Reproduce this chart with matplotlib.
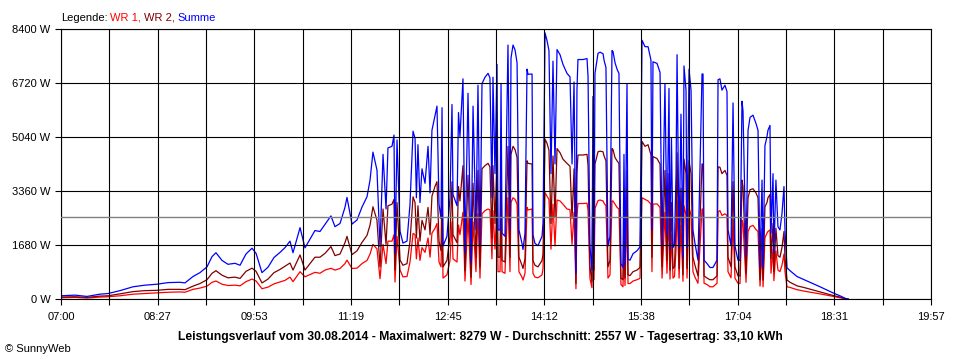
import numpy as np
import matplotlib
matplotlib.use("Agg")
import matplotlib.pyplot as plt
from matplotlib.offsetbox import TextArea, HPacker, AnchoredOffsetbox

plt.rcParams['font.family'] = ['Liberation Sans', 'DejaVu Sans']

# Leistungsverlauf 30.08.2014, Zeit in Minuten ab 07:00
minutes = [
    0.0, 12.5, 23.2, 34.8, 42.0, 52.7, 64.3, 75.0, 85.7, 95.6,
    106.3, 110.7, 117.9, 124.1, 130.4, 134.9, 138.4, 143.8, 149.1, 155.4,
    159.9, 165.2, 170.6, 174.2, 179.5, 184.9, 190.2, 195.6, 200.1, 204.5,
    207.2, 213.5, 217.9, 222.4, 226.8, 231.3, 235.8, 241.1, 244.7, 249.2,
    253.6, 255.4, 259.9, 264.4, 268.8, 273.3, 276.0, 278.6, 282.2, 284.9,
    287.6, 290.3, 292.0, 295.6, 297.4, 298.3, 300.1, 302.8, 305.4, 309.0,
    311.7, 314.4, 316.2, 317.4, 318.8, 320.6, 322.4, 325.1, 327.8, 329.6,
    331.3, 334.0, 335.8, 337.6, 339.4, 340.3, 341.2, 344.7, 347.4, 349.2,
    350.1, 353.7, 355.0, 356.3, 359.0, 360.8, 363.5, 366.2, 368.0, 370.6,
    372.4, 374.2, 376.0, 378.7, 381.4, 383.1, 384.9, 385.8, 387.6, 389.4,
    390.3, 392.1, 393.0, 393.9, 396.5, 399.2, 401.0, 401.9, 403.7, 405.5,
    407.3, 409.0, 411.7, 412.6, 414.4, 416.2, 417.1, 420.7, 421.5, 423.3,
    426.0, 429.6, 430.5, 432.3, 434.0, 435.8, 437.6, 439.4, 441.2, 443.0,
    445.7, 448.3, 451.9, 454.6, 456.4, 458.2, 459.9, 460.8, 461.7, 466.2,
    469.8, 470.7, 472.4, 474.2, 475.1, 476.0, 476.9, 479.6, 481.4, 484.1,
    485.0, 486.7, 488.5, 490.3, 492.1, 493.0, 494.8, 496.6, 498.3, 500.1,
    501.9, 502.8, 503.7, 505.5, 506.4, 508.2, 510.9, 514.4, 517.1, 518.9,
    521.6, 524.3, 526.9, 527.8, 528.7, 532.3, 535.0, 536.8, 539.4, 541.2,
    543.0, 543.9, 545.2, 546.6, 547.9, 549.3, 550.2, 552.0, 553.7, 555.5,
    556.4, 558.2, 559.1, 560.9, 562.7, 564.4, 566.2, 568.9, 572.5, 573.4,
    574.3, 577.0, 579.6, 582.3, 585.9, 586.8, 588.5, 590.3, 593.0, 594.8,
    595.7, 598.4, 600.2, 601.9, 604.6, 606.4, 608.2, 609.1, 611.8, 613.6,
    615.4, 618.0, 620.7, 622.5, 624.3, 626.1, 627.0, 628.7, 630.5, 631.4,
    633.2, 634.1, 635.9, 636.7, 638.5, 640.3, 642.1, 643.9, 645.7, 646.6,
    648.4, 651.1, 657.3, 664.4, 677.9, 689.5, 695.7, 701.1, 702.9,
]

wr1 = [
    40, 50, 30, 60, 70, 100, 150, 170, 190, 210,
    220, 210, 300, 340, 400, 520, 560, 460, 420, 430,
    410, 540, 620, 560, 320, 370, 470, 530, 580, 680,
    540, 850, 690, 760, 830, 800, 900, 955, 900, 950,
    1100, 1210, 950, 960, 1100, 1200, 1400, 1700, 1560, 630,
    1700, 1100, 1800, 1800, 2000, 530, 1950, 900, 690, 700,
    1150, 2040, 2000, 1250, 1900, 1200, 1600, 1450, 1900, 1300,
    2050, 2200, 2350, 1150, 1000, 2350, 650, 750, 1200, 2400,
    1250, 1150, 2300, 2000, 2700, 560, 2550, 450, 2400, 850,
    2650, 650, 2650, 2750, 2800, 2770, 1250, 2750, 1550, 2900,
    850, 850, 2700, 850, 800, 3150, 850, 3000, 3150, 3100,
    2950, 850, 680, 590, 800, 2850, 2770, 2800, 800, 680,
    660, 750, 950, 3309, 3200, 3100, 1550, 2950, 1650, 3080,
    3050, 2950, 2800, 2780, 1700, 2700, 320, 2600, 2970, 2970,
    2980, 2760, 640, 350, 2500, 600, 2820, 3060, 3080, 3050,
    2980, 2900, 650, 750, 3050, 3050, 2950, 2850, 2800, 450,
    380, 1800, 420, 2700, 480, 480, 560, 600, 640, 3150,
    3100, 3050, 2950, 850, 2950, 2960, 2850, 650, 2700, 800,
    2650, 620, 2000, 650, 700, 1550, 3050, 650, 2300, 550,
    2900, 2600, 650, 2850, 2600, 850, 680, 490, 2800, 2800,
    490, 450, 380, 380, 490, 2710, 2750, 2600, 2650, 2600,
    850, 660, 2450, 650, 490, 480, 2450, 2350, 520, 2100,
    2250, 2290, 2160, 2100, 400, 1500, 380, 1900, 2050, 2100,
    2150, 800, 1550, 570, 1500, 900, 850, 1050, 1400, 850,
    380, 360, 290, 240, 160, 80, 40, 4, 0,
]

wr2 = [
    60, 70, 50, 90, 100, 160, 230, 260, 270, 300,
    300, 290, 400, 480, 600, 800, 880, 740, 660, 680,
    640, 860, 960, 860, 500, 620, 820, 920, 1020, 1120,
    900, 1370, 900, 1100, 1300, 1300, 1420, 1630, 1350, 1400,
    1750, 1950, 1380, 1500, 1760, 1980, 2300, 2870, 2450, 1000,
    2800, 1700, 2900, 2950, 3100, 900, 3000, 1210, 1050, 1100,
    1800, 3180, 3000, 1900, 2900, 1800, 2450, 2150, 2850, 2000,
    3200, 3500, 3650, 1800, 1500, 3600, 1000, 1200, 1950, 3650,
    2000, 1750, 3500, 3050, 4150, 880, 3850, 680, 3600, 1300,
    4000, 1000, 4050, 4150, 4220, 4110, 1900, 4150, 2350, 4400,
    1300, 1300, 4000, 1200, 1150, 4750, 1300, 4500, 4750, 4650,
    4400, 1300, 1050, 950, 1250, 4300, 4220, 4200, 1200, 1050,
    1000, 1200, 1400, 4970, 4850, 4630, 2350, 4450, 2550, 4680,
    4550, 4350, 4220, 4130, 2500, 4050, 480, 3900, 4480, 4480,
    4500, 4150, 1000, 550, 3800, 900, 4200, 4580, 4600, 4580,
    4450, 4300, 1000, 1200, 4680, 4650, 4400, 4300, 4220, 650,
    600, 2700, 650, 4000, 750, 730, 850, 900, 980, 4900,
    4750, 4800, 4480, 1300, 4430, 4370, 4200, 1000, 4000, 1200,
    3900, 900, 3000, 950, 1000, 2350, 4550, 950, 3450, 750,
    4350, 3900, 950, 4300, 3900, 1300, 1050, 720, 4200, 4200,
    720, 650, 600, 600, 720, 4110, 4100, 3900, 4000, 3850,
    1300, 1000, 3650, 1000, 720, 720, 3700, 3500, 800, 3150,
    3400, 3430, 3300, 3150, 600, 2200, 590, 2870, 3000, 3150,
    3250, 1250, 2350, 850, 2200, 1350, 1300, 1600, 2100, 1300,
    590, 520, 410, 350, 220, 110, 60, 6, 0,
]

summe = np.array(wr1) + np.array(wr2)
durchschnitt = 2557

tick_minutes = np.linspace(0, 777, 19)
tick_labels = ['07:00', '', '08:27', '', '09:53', '', '11:19', '', '12:45', '',
               '14:12', '', '15:38', '', '17:04', '', '18:31', '', '19:57']
y_ticks = [0, 1680, 3360, 5040, 6720, 8400]

title = ('Leistungsverlauf vom 30.08.2014 - Maximalwert: 8279 W - '
         'Durchschnitt: 2557 W - Tagesertrag: 33,10 kWh')

RED = '#ff0000'
DARKRED = '#800000'
BLUE = '#0000ff'

fig = plt.figure(figsize=(9.6, 3.6), dpi=100)
ax = fig.add_axes([61 / 960, 1 - 299 / 360, 870 / 960, 270 / 360])

ax.plot(minutes, wr1, color=RED, lw=0.9)
ax.plot(minutes, wr2, color=DARKRED, lw=0.9)
ax.plot(minutes, summe, color=BLUE, lw=0.9)
ax.axhline(durchschnitt, color='#808080', lw=1.0, zorder=3)

ax.set_xlim(0, 777)
ax.set_ylim(0, 8400)
ax.set_xticks(tick_minutes)
ax.set_xticklabels(tick_labels)
ax.set_yticks(y_ticks)
ax.set_yticklabels([f'{v} W' for v in y_ticks])
ax.grid(True, color='black', lw=0.8)
ax.set_axisbelow(False)
ax.tick_params(direction='out', length=4.5, width=0.8, labelsize=8, pad=3)
ax.tick_params(axis='x', pad=5)
for s in ax.spines.values():
    s.set_linewidth(0.8)

# Legende oben links, farbig
parts = [('Legende:', 'black'), ('WR 1,', RED), ('WR 2,', DARKRED), ('Summe', BLUE)]
boxes = [TextArea(t, textprops=dict(color=c, fontsize=8)) for t, c in parts]
pack = HPacker(children=boxes, align='baseline', pad=0, sep=2)
legend = AnchoredOffsetbox(loc='lower left', child=pack, frameon=False, pad=0, borderpad=0,
                           bbox_to_anchor=(61 / 960, 1 - 23 / 360),
                           bbox_transform=fig.transFigure)
fig.add_artist(legend)

fig.text(0.5, 1 - 337 / 360, title, ha='center', va='center', fontsize=8.7, fontweight='bold')
fig.text(5 / 960, 1 - 349 / 360, '\u00a9 SunnyWeb', ha='left', va='center', fontsize=8)

fig.savefig('out.png', dpi=100, facecolor='white')
